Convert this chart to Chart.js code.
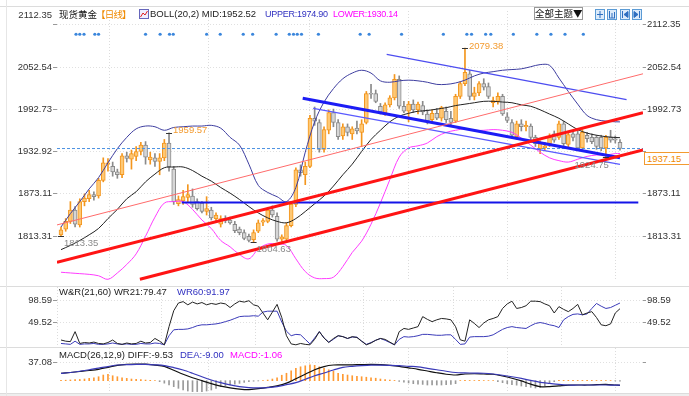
<!DOCTYPE html>
<html><head><meta charset="utf-8">
<script src="https://cdn.jsdelivr.net/npm/chart.js@4.4.1/dist/chart.umd.min.js"></script>
<style>
html,body{margin:0;padding:0;background:#fff;}
body{width:689px;height:396px;overflow:hidden;position:relative;font-family:"Liberation Sans",Arial,sans-serif;}
.cv{position:absolute;left:0;}
.t{position:absolute;font-size:9.5px;line-height:12px;white-space:nowrap;color:#222;}
.n{font-size:9px;letter-spacing:-0.25px;}
.cjk{font-family:"Noto Sans CJK SC","Liberation Sans",sans-serif;}
.hl{position:absolute;left:0;width:689px;height:1px;background:#dcdcdc;}
.ic{position:absolute;top:9px;}
</style></head><body>
<canvas id="cMain" class="cv" width="689" height="278" style="top:7px"></canvas>
<canvas id="cWR" class="cv" width="689" height="60" style="top:287px"></canvas>
<canvas id="cMACD" class="cv" width="689" height="45" style="top:348px"></canvas>
<div class="hl" style="top:6px"></div>
<div class="hl" style="top:286px"></div>
<div class="hl" style="top:347px"></div>
<div style="position:absolute;left:0;top:393px;width:689px;height:3px;background:#eeeeee;border-top:1px solid #dcdcdc"></div>
<div style="position:absolute;left:6px;top:0;width:1px;height:396px;background:#e6e6e6"></div>

<div class="t cjk" style="left:59px;top:8px;color:#111">现货黄金</div>
<div class="t cjk" style="left:96px;top:8px;color:#f08a00;letter-spacing:-0.8px">【日线】</div>
<svg style="position:absolute;left:139px;top:9px" width="10" height="10"><rect x="0.5" y="0.5" width="9" height="9" fill="#eef" stroke="#6666bb"/><polyline points="1.5,8 4,4 6,6 8.5,2" fill="none" stroke="#e02020" stroke-width="1"/></svg>
<div class="t" style="left:150px;top:8px;color:#222">BOLL(20,2) MID:1952.52</div>
<div class="t n" style="left:265px;top:8px;color:#3030c0">UPPER:1974.90</div>
<div class="t n" style="left:333px;top:8px;color:#ff00ff">LOWER:1930.14</div>
<div class="t cjk" style="left:534px;top:7px;width:47px;height:11px;line-height:11px;border:1px solid #999;text-align:center;font-size:9.5px;color:#111">全部主题▼</div>
<svg class="ic" style="left:595px" width="10" height="11"><rect x="0.5" y="0.5" width="9" height="10" fill="#dcebfa" stroke="#5b9bd5"/><path d="M5 2v7M2 5.5h6" stroke="#2f6fc0" stroke-width="1" fill="none"/></svg>
<svg class="ic" style="left:607px" width="10" height="11"><rect x="0.5" y="0.5" width="9" height="10" fill="#dcebfa" stroke="#5b9bd5"/><path d="M2.5 2v7M5 4v5M7.5 3v6M2 9h6" stroke="#2f6fc0" stroke-width="1" fill="none"/></svg>
<svg class="ic" style="left:620px" width="10" height="11"><rect x="0.5" y="0.5" width="9" height="10" fill="#dcebfa" stroke="#5b9bd5"/><path d="M2.5 2v7M4 5.5l4-3v6z" stroke="#2f6fc0" stroke-width="1" fill="#2f6fc0"/></svg>
<svg class="ic" style="left:632px" width="10" height="11"><rect x="0.5" y="0.5" width="9" height="10" fill="#dcebfa" stroke="#5b9bd5"/><path d="M7.5 2v7M2 2.5l4 3-4 3z" stroke="#2f6fc0" stroke-width="1" fill="#2f6fc0"/></svg>
<div class="t" style="right:637px;top:9px;color:#333">2112.35</div>

<div class="t" style="left:59px;top:286px;color:#222">W&amp;R(21,60) WR21:79.47</div>
<div class="t" style="left:177px;top:286px;color:#3030c0">WR60:91.97</div>
<div class="t" style="left:59px;top:349px;color:#222">MACD(26,12,9) DIFF:-9.53</div>
<div class="t" style="left:180px;top:349px;color:#3030c0">DEA:-9.00</div>
<div class="t" style="left:230px;top:349px;color:#ff00ff">MACD:-1.06</div>
<div class="t" style="left:644px;top:152px;width:42px;height:11px;line-height:11px;border:1px solid #f39b30;background:#fff;color:#f08a00;padding-left:2px">1937.15</div>

<script>
// ---------------- data ----------------
const candleOpen = [1815,1823,1834,1850,1829,1862,1866,1872,1870,1892,
1915,1912,1904,1900,1927,1922,1926,1933,1942,1921,
1924,1919,1924,1945,1908,1859,1863,1868,1870,1862,
1860,1848,1850,1838,1830,1838,1836,1830,1823,1818,
1813,1808,1820,1833,1834,1850,1841,1809,1809,1828,
1858,1907,1900,1912,1980,1974,1936,1963,1988,1974,
1955,1968,1958,1966,1960,1974,2015,2015,1997,1988,
1999,2009,2035,1997,1990,2000,1992,1998,1986,1978,
1987,1980,1990,1980,1976,2011,2029,2043,2011,2016,
2029,2025,2002,2004,2011,1982,1974,1954,1972,1968,
1969,1953,1937,1938,1944,1958,1953,1972,1943,1958,
1958,1938,1956,1953,1953,1953,1938,1953,1951,1946];
const candleHigh = [1826,1838,1862,1855,1866,1873,1878,1876,1895,1924,
1923,1918,1908,1930,1932,1935,1940,1946,1947,1932,
1930,1930,1950,1959.57,1912,1870,1878,1886,1880,1866,
1862,1869,1854,1846,1842,1842,1840,1834,1826,1822,
1816,1822,1836,1838,1854,1856,1846,1815,1832,1862,
1910,1914,1918,1984,1996,1978,1968,1992,1993,1978,
1972,1972,1968,1976,1978,2018,2028,2020,2001,2002,
2012,2042,2040,2004,2004,2006,2003,2004,1992,1992,
1994,1997,1996,1990,2014,2032,2079.38,2048,2024,2032,
2036,2030,2010,2016,2014,1988,1978,1976,1978,1976,
1972,1956,1948,1946,1958,1962,1976,1976,1960,1962,
1962,1964,1960,1958,1956,1956,1956,1963,1955,1950];
const candleLow = [1813.35,1820,1831,1826,1826,1856,1862,1864,1867,1890,
1905,1898,1895,1896,1918,1908,1920,1928,1915,1915,
1912,1900,1920,1905,1858,1856,1858,1862,1854,1850,
1846,1843,1836,1834,1826,1832,1830,1818,1815,1808,
1805,1804.63,1818,1828,1832,1840,1806,1806,1807,1826,
1855,1898,1886,1910,1970,1932,1932,1958,1968,1950,
1950,1955,1950,1958,1940,1972,2008,2002,1986,1984,
1996,2006,1994,1988,1975,1988,1986,1985,1972,1974,
1978,1976,1974,1970,1974,2008,2026,2006,2006,2012,
2020,2008,1996,2000,1984,1974,1952,1950,1962,1962,
1950,1940,1930,1934,1940,1946,1950,1940,1938,1948,
1934,1936,1946,1944,1936,1934,1924.75,1946,1945,1935];
const candleClose = [1822,1834,1850,1830,1862,1867,1872,1869,1892,1917,
1917,1904,1900,1927,1923,1930,1933,1942,1925,1925,
1919,1924,1945,1911,1862,1865,1869,1872,1858,1852,
1848,1852,1839,1843,1838,1835,1832,1821,1818,1810,
1807,1818,1832,1835,1850,1843,1809,1812,1828,1858,
1907,1903,1912,1980,1976,1936,1964,1988,1974,1954,
1968,1960,1965,1962,1972,2015,2014,2004,1989,1999,
2009,2035,1997,1990,2000,1992,2000,1989,1976,1987,
1980,1995,1978,1974,2011,2029,2045,2011,2016,2029,
2024,2011,2005,2011,1986,1977,1956,1972,1968,1970,
1953,1944,1944,1941,1953,1949,1972,1944,1957,1953,
1938,1960,1951,1947,1940,1938,1953,1949,1949,1937.15];

// Bollinger bands read every second bar (last point = last bar)
const bollUpper = [1826,1845,1862,1880,1896,1917,1937,1953,1965,1969,1968,1963,1967,1968,1969,1969,1970,1966,1953,1942,1915,1885,1875,1869,1862,1882,1932,1975,2003,2022,2036,2044,2048,2044,2033,2031,2033,2034,2033,2031,2028,2028,2030,2034,2040,2044,2046,2048,2049,2050,2053,2056,2055,2037,2018,2000,1984,1978,1976,1975,1974.90];
const bollMid = [1794,1800,1807,1815,1824,1838,1851,1866,1876,1890,1901,1910,1911,1911,1906,1898,1891,1882,1874,1865,1855,1846,1839,1834,1832,1838,1848,1859,1870,1884,1900,1915,1933,1950,1963,1975,1983,1987,1990,1991,1993,1995,1998,2000,2002,2004,2004,2003,2002,1999,1997,1992,1986,1980,1972,1964,1959,1956,1954,1952.8,1952.52];
const bollLower = [1762,1761,1760,1759,1757,1752,1761,1773,1788,1813,1840,1860,1862,1862,1851,1836,1824,1807,1798,1787,1781,1795,1802,1802,1800,1781,1763,1754,1753,1755,1770,1790,1806,1830,1860,1893,1925,1938,1941,1945,1954,1960,1963,1965,1963,1963,1964,1963,1960,1952,1942,1932,1924,1920,1918,1922,1926,1928,1928,1930,1930.14];

// MACD lines, same sampling
const macdDiff = [14.8,16.5,18.5,20.5,23,27,31,33,33.6,33.5,31.5,29,21,13,6,0,-6,-11,-14.5,-17,-18,-16,-13.5,-10.5,-5,4,13,22,28.5,31.6,31.8,32,32.5,33,32.5,31,29,26,23,19.5,16,13,11.5,13.5,14,13.5,13,9.5,5,-0.5,-7,-12,-12,-10.5,-9,-8.7,-8.7,-8,-7.3,-8.7,-9.53];
const macdDea = [14.8,16.5,19,22,25.5,28.5,31.6,32.3,32.8,33,32,30.5,26.5,21.5,15,8,1.5,-4,-8.5,-12,-14,-14.5,-14,-12,-8,-4,3,10,15.5,21.6,27,29,30.5,31.5,31.5,31,30.3,29,28,25,22,19,16.5,15.8,15.3,15,13.5,11,8,4.5,0.5,-3.3,-5.5,-7.5,-8.7,-8.7,-8.7,-8.7,-8.7,-8.9,-9.00];
const macdHist = [0.5,1,1.5,2,2.5,3.4,4.7,6,8,11.4,12.8,10,8,6,4.7,3.4,2.7,2,1.3,0.7,0.3,
-2,-5,-8.7,-12,-15.4,-18.8,-20.8,-22,-22,-22,-20.8,-18.8,-15.4,-12,-10,-8.7,-7,-5.4,-3.4,-2,-1,-0.5,
0.3,1.3,3.4,6,11,15,20,25,28,30,32,31,28,25,22,19,15,13,11.4,10,9,8,7,6,5,3.4,2.5,1.3,0.5,
-1.5,-3,-4.5,-6,-7,-7.5,-8.7,-8.7,-8.7,-8.7,-8,-7.4,-6,
0.3,0.5,0.5,0.3,0.5,0.3,0.3,0.2,
-2,-4,-6,-8,-9,-10.7,-12,-13.4,-14.8,-14,-10,-6,-2,
0.5,0.5,0.6,0.6,0.5,0.5,0.6,0.5,0.4,0.4,0.3,
0.2,-0.5,-1.06];

// Williams %R
const wr21 = [10.6,8,7,29,3,5,4,6,3,2,5,10.6,3,1,4,2,3,8,4,5,
14,8,0,40,75,92,95,88,94,90,93,88,91,89,92,90,82,90,96,94,
97,88,85,70,55,72,89,60,20,2,0,3,1,0,12,29,15,5,14,20,
18,14,18,16,8,0,4,10,14,12,6,0,29,36,34,37,40,62,56,51,
55,58,57,55,40,11,8,55,47,38,48,55,58,62,80,90,96,80,82,86,
96,96,95,90,86,70,84,78,73,80,89,66,70,73,60,44,42,46,70,79.47];
const wr60 = [3,2,1,8,1,2,2,3,1,1,2,4,2,1,2,1,1,3,2,2,
4,3,0,20,33,34,34,35,38,42,44,44,45,46,48,51,54,58,62,63,
63,64,63,72,74,74,74,50,30,20,23,22,12,2,15,29,15,6,12,20,
18,14,17,17,8,1,5,10,14,10,5,0,12,18,17,18,20,23,23,22,
21,21,22,22,12,1,2,17,18,18,18,19,22,28,34,38,40,38,37,36,
42,47,49,47,44,42,38,55,62,67,68,66,68,80,91,85,80,82,87,91.97];

// tick labels
const priceTicks = [1813.31,1873.11,1932.92,1992.73,2052.54,2112.35];
const wrTicks = [49.52,98.59];
const macdTicks = [37.08];

// hand-drawn lines: start bar, start price, end bar, end price
const trendStartIdx = [-0.85,-0.85,16.8,51.46,53.7,69.34,25.7];
const trendStartVal = [1829,1776,1752,2008.5,1994,2070.4,1860.6];
const trendEndIdx   = [123.9,123.9,123.9,119.0,119.0,120.4,122.9];
const trendEndVal   = [2043,1988,1935.3,1924,1914.6,2006.3,1860.6];

// event dots over the chart (bar positions)
const markerIdx = [3.2,4,4.9,7.2,8,18,21.1,23.1,23.9,31,33.9,38.8,40.8,45.8,48.6,49.5,50.3,51.2,54.8,63.7,65.6,72.5,81.4,86.4,87.4,90.4,91.5,96.3,101.3,104.3,107.3,111.2];
// month separators (between bars)
const monthIdx = [21.5,41.5,64.5,83.5,106.5];
// labelled extremes
const extremeIdx = [23,86,0,41,116];
const extremeVal = [1959.57,2079.38,1813.35,1804.63,1924.75];
const extremeKind = ['high','high','low','low','low'];

// ---------------- styles ----------------
const barIdx = candleClose.map((_, i) => i);
const sampleIdx = bollMid.map((_, k) => k < bollMid.length - 1 ? 2 * k : barIdx.length - 1);
const lastClose = candleClose[candleClose.length - 1];
const UP_FILL = '#fec874', UP_LINE = '#f3961e', DN_FILL = '#d6d6d6', DN_LINE = '#8a8a8a';
const trendColor = ['#ff6b6b','#ff1414','#ff1414','#1c1cf5','#5a5aff','#4d4df0','#1414e8'];
const trendWidth = [1,3,3,3,1.3,1.3,2];

Chart.defaults.font.family = '"Liberation Sans", Arial, sans-serif';
Chart.defaults.font.size = 9.5;
Chart.defaults.color = '#333';

const X_MIN = -0.85, X_MAX = 123.9;
function xScale() {
  return {
    type: 'linear', min: X_MIN, max: X_MAX, offset: false, display: true,
    ticks: { display: false },
    border: { display: false, dash: [1, 2] },
    grid: { color: '#dcdcdc', drawTicks: false, lineWidth: 1 },
    afterBuildTicks(s) { s.ticks = [X_MIN].concat(monthIdx).map(v => ({ value: v })); },
    afterFit(s) { s.height = 0; s.paddingLeft = 0; s.paddingRight = 0; }
  };
}
function yScale(pos, min, max, ticksArr, labels, hide) {
  return {
    type: 'linear', position: pos, min: min, max: max,
    border: { display: false, dash: [1, 2] },
    grid: { color: '#e0e0e0', drawOnChartArea: pos === 'left', tickLength: pos === 'left' ? 4 : 3,
            tickColor: '#999', tickBorderDash: [] },
    ticks: { autoSkip: false, padding: 1, color: '#333', display: true,
             callback: (v) => (!labels || (hide && hide.includes(v))) ? '' : v.toFixed(2) },
    afterBuildTicks(s) { s.ticks = ticksArr.map(v => ({ value: v })); },
    afterFit(s) { s.width = pos === 'left' ? 57 : 46; s.paddingTop = 0; s.paddingBottom = 0; }
  };
}
const baseOpts = {
  responsive: false, animation: false, devicePixelRatio: 1,
  layout: { padding: 0 },
  plugins: { legend: { display: false }, tooltip: { enabled: false } },
  events: []
};

const extremePlugin = {
  id: 'extremes',
  afterDatasetsDraw(chart) {
    const { ctx, scales: { x, y }, chartArea } = chart;
    ctx.save();
    ctx.font = '9.5px "Liberation Sans", Arial, sans-serif';
    ctx.textBaseline = 'middle';
    extremeIdx.forEach((idx, k) => {
      const px = x.getPixelForValue(idx), py = y.getPixelForValue(extremeVal[k]);
      ctx.strokeStyle = '#333'; ctx.lineWidth = 1;
      ctx.beginPath(); ctx.moveTo(px - 3, Math.round(py) + 0.5); ctx.lineTo(px + 3, Math.round(py) + 0.5); ctx.stroke();
      const txt = extremeVal[k].toFixed(2);
      if (extremeKind[k] === 'high') {
        ctx.fillStyle = '#f39b30'; ctx.textAlign = 'left';
        ctx.fillText(txt, px + 4, py - 2);
      } else {
        ctx.fillStyle = '#8a8a8a';
        if (px > chartArea.right - 60) { ctx.textAlign = 'right'; ctx.fillText(txt, px + 3, py + 8); }
        else { ctx.textAlign = 'left'; ctx.fillText(txt, px + 3, py + 7); }
      }
    });
    ctx.restore();
  }
};

// ---------------- main chart ----------------
const up = barIdx.map(i => candleClose[i] >= candleOpen[i]);
const mainDatasets = [
  { type: 'bar', label: 'wick', order: 20, grouped: false, barThickness: 1,
    data: barIdx.map(i => ({ x: i, y: [candleLow[i], candleHigh[i]] })),
    backgroundColor: barIdx.map(i => up[i] ? UP_LINE : DN_LINE) },
  { type: 'bar', label: 'body', order: 19, grouped: false, barThickness: 4, minBarLength: 1,
    borderWidth: 1, borderSkipped: false,
    data: barIdx.map(i => ({ x: i, y: [Math.min(candleOpen[i], candleClose[i]), Math.max(candleOpen[i], candleClose[i])] })),
    backgroundColor: barIdx.map(i => up[i] ? UP_FILL : DN_FILL),
    borderColor: barIdx.map(i => up[i] ? UP_LINE : DN_LINE) },
  { type: 'line', label: 'UPPER', order: 8, data: sampleIdx.map((s, k) => ({ x: s, y: bollUpper[k] })),
    borderColor: '#3d3d9f', borderWidth: 1, pointRadius: 0, tension: 0.35 },
  { type: 'line', label: 'MID', order: 8, data: sampleIdx.map((s, k) => ({ x: s, y: bollMid[k] })),
    borderColor: '#222', borderWidth: 1, pointRadius: 0, tension: 0.35 },
  { type: 'line', label: 'LOWER', order: 8, data: sampleIdx.map((s, k) => ({ x: s, y: bollLower[k] })),
    borderColor: '#ff3cff', borderWidth: 1, pointRadius: 0, tension: 0.35 },
  { type: 'line', label: 'last', order: 7, data: [{ x: X_MIN, y: lastClose }, { x: X_MAX, y: lastClose }],
    borderColor: '#4a90e2', borderWidth: 1, borderDash: [3, 2], pointRadius: 0 },
  { type: 'line', label: 'events', order: 1, showLine: false, data: markerIdx.map(v => ({ x: v, y: 2099 })),
    pointRadius: 1.6, pointBorderWidth: 0, pointBackgroundColor: '#3a86dc' }
];
trendStartIdx.forEach((s, k) => {
  mainDatasets.push({ type: 'line', label: 'trend' + k, order: 3,
    data: [{ x: s, y: trendStartVal[k] }, { x: trendEndIdx[k], y: trendEndVal[k] }],
    borderColor: trendColor[k], borderWidth: trendWidth[k], pointRadius: 0 });
});
new Chart(document.getElementById('cMain'), {
  type: 'bar',
  data: { datasets: mainDatasets },
  options: Object.assign({}, baseOpts, {
    scales: {
      x: xScale(),
      y: yScale('left', 1749.6, 2131.9, priceTicks, true, [2112.35]),
      y2: yScale('right', 1749.6, 2131.9, priceTicks, true, [1932.92])
    }
  }),
  plugins: [extremePlugin]
});

// ---------------- W&R ----------------
new Chart(document.getElementById('cWR'), {
  type: 'line',
  data: { datasets: [
    { label: 'WR21', data: barIdx.map(i => ({ x: i, y: wr21[i] })), borderColor: '#222', borderWidth: 1, pointRadius: 0, tension: 0 },
    { label: 'WR60', data: barIdx.map(i => ({ x: i, y: wr60[i] })), borderColor: '#3a3ab8', borderWidth: 1, pointRadius: 0, tension: 0 }
  ] },
  options: Object.assign({}, baseOpts, {
    scales: { x: xScale(), y: yScale('left', -4.8, 127.2, wrTicks, true), y2: yScale('right', -4.8, 127.2, wrTicks, true) }
  })
});

// ---------------- MACD ----------------
new Chart(document.getElementById('cMACD'), {
  type: 'bar',
  data: { datasets: [
    { type: 'bar', label: 'MACD', order: 5, barThickness: 1, data: barIdx.map(i => ({ x: i, y: macdHist[i] })),
      backgroundColor: barIdx.map(i => macdHist[i] >= 0 ? '#ff9a33' : '#9a9a9a') },
    { type: 'line', label: 'DIFF', order: 2, data: sampleIdx.map((s, k) => ({ x: s, y: macdDiff[k] })),
      borderColor: '#111', borderWidth: 1.2, pointRadius: 0, tension: 0.3 },
    { type: 'line', label: 'DEA', order: 1, data: sampleIdx.map((s, k) => ({ x: s, y: macdDea[k] })),
      borderColor: '#3a3ab8', borderWidth: 1.2, pointRadius: 0, tension: 0.3 }
  ] },
  options: Object.assign({}, baseOpts, {
    scales: { x: xScale(), y: yScale('left', -24.8, 65.9, macdTicks, true), y2: yScale('right', -24.8, 65.9, macdTicks, false) }
  })
});
</script>
</body></html>
